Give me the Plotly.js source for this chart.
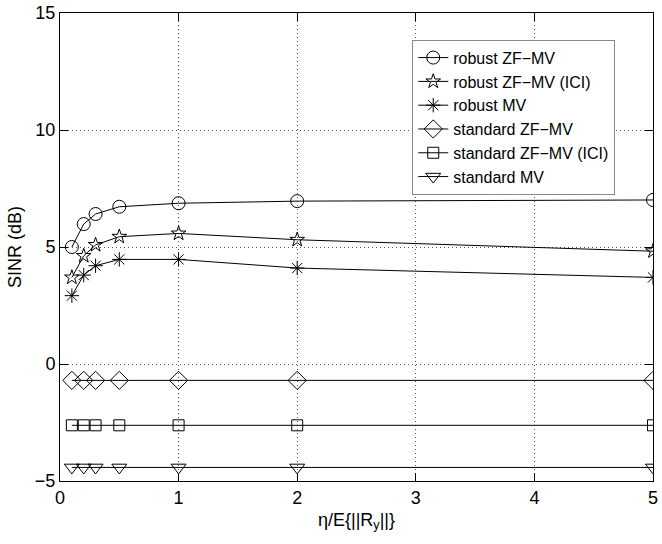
<!DOCTYPE html>
<html>
<head>
<meta charset="utf-8">
<script src="https://cdn.plot.ly/plotly-3.0.1.min.js"></script>
<style>html,body{margin:0;padding:0;background:#fff;}#chart{width:662px;height:544px;}</style>
</head>
<body>
<div id="chart"></div>
<script>
const xVals = [0.1, 0.2, 0.3, 0.5, 1, 2, 5];
const robustZFMV = [5.0, 5.98, 6.41, 6.72, 6.87, 6.96, 7.01];
const robustZFMVICI = [3.70, 4.62, 5.09, 5.44, 5.58, 5.31, 4.82];
const robustMV = [2.92, 3.80, 4.20, 4.47, 4.47, 4.10, 3.70];
const standardZFMV = [-0.70, -0.70, -0.70, -0.70, -0.70, -0.70, -0.70];
const standardZFMVICI = [-2.62, -2.62, -2.62, -2.62, -2.62, -2.62, -2.62];
const standardMV = [-4.42, -4.42, -4.42, -4.42, -4.42, -4.42, -4.42];
const seriesNames = ["robust ZF\u2212MV", "robust ZF\u2212MV (ICI)", "robust MV", "standard ZF\u2212MV", "standard ZF\u2212MV (ICI)", "standard MV"];
const xTicks = [0, 1, 2, 3, 4, 5];
const yTicks = [-5, 0, 5, 10, 15];

const seriesData = [robustZFMV, robustZFMVICI, robustMV, standardZFMV, standardZFMVICI, standardMV];
const symbols = ["circle-open", "star-open", "asterisk-open", "diamond-open", "square-open", "triangle-down-open"];
const sizes = [13, 11, 12, 14, 11, 13];

const traces = seriesData.map((y, i) => ({
  x: xVals, y: y, name: seriesNames[i], type: "scatter", mode: "lines+markers",
  line: {color: "#000", width: 1},
  marker: {symbol: symbols[i], size: sizes[i], color: "#000", line: {color: "#000", width: 1}}
}));

const font = {family: "Liberation Sans, Arial, Helvetica, sans-serif", size: 18, color: "#000"};

const layout = {
  width: 662, height: 544,
  margin: {l: 60, r: 9, t: 13, b: 63},
  paper_bgcolor: "#fff", plot_bgcolor: "#fff",
  font: font,
  showlegend: true,
  legend: {
    x: 0.594, y: 0.943, xanchor: "left", yanchor: "top",
    bgcolor: "#fff", bordercolor: "#888", borderwidth: 1,
    font: {family: font.family, size: 16, color: "#000"},
    tracegroupgap: 0
  },
  xaxis: {
    range: [0, 5], tickvals: xTicks, ticktext: xTicks.map(String),
    showline: true, linecolor: "#000", linewidth: 1, mirror: "ticks",
    ticks: "inside", ticklen: 8, tickcolor: "#000",
    tickfont: {family: font.family, size: 18, color: "#000"},
    showgrid: true, gridcolor: "#555", griddash: "1px,3px", gridwidth: 1,
    zeroline: false,
    title: {text: "\u03b7/E{||R<sub>y</sub>||}", font: {family: font.family, size: 18, color: "#000"}, standoff: 6}
  },
  yaxis: {
    range: [-5, 15], tickvals: yTicks, ticktext: yTicks.map(v => v < 0 ? "\u2212" + Math.abs(v) : String(v)),
    showline: true, linecolor: "#000", linewidth: 1, mirror: "ticks",
    ticks: "inside", ticklen: 8, tickcolor: "#000",
    tickfont: {family: font.family, size: 18, color: "#000"},
    showgrid: true, gridcolor: "#555", griddash: "1px,3px", gridwidth: 1,
    zeroline: false,
    title: {text: "SINR (dB)", font: {family: font.family, size: 18, color: "#000"}, standoff: 8}
  }
};

Plotly.newPlot("chart", traces, layout, {displayModeBar: false, staticPlot: true});
</script>
</body>
</html>
